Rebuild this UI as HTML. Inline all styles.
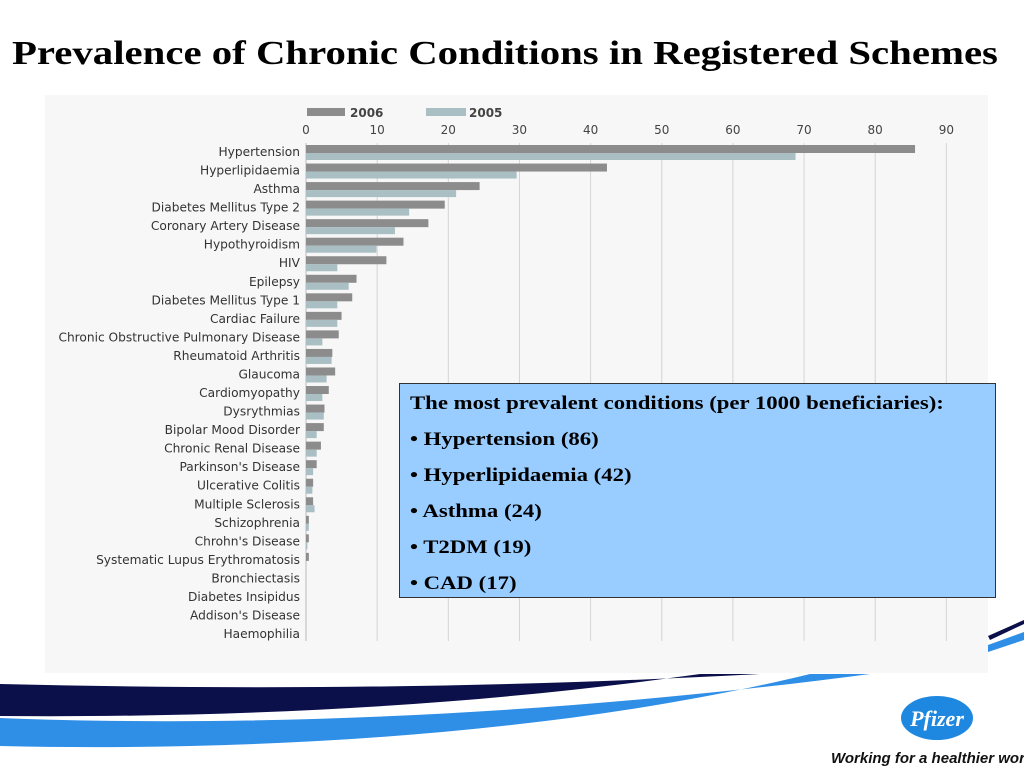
<!DOCTYPE html>
<html><head><meta charset="utf-8"><style>
html,body{margin:0;padding:0;background:#fff;width:1024px;height:768px;overflow:hidden;font-family:"Liberation Sans",sans-serif}
#title{position:absolute;left:12px;top:35px;white-space:nowrap;font-family:"Liberation Serif",serif;font-weight:bold;font-size:34px;color:#000;transform:scaleX(1.2);transform-origin:left}
#note{position:absolute;left:399px;top:383px;width:597px;height:215px;background:#99ccff;border:1px solid #333;box-sizing:border-box;font-family:"Liberation Serif",serif;font-weight:bold;font-size:18.5px;color:#000;padding:8px 0 0 10px}
#note div{height:36px;line-height:24px;white-space:nowrap;transform:scaleX(1.23);transform-origin:left}
#tag{position:absolute;left:831px;top:750px;font-family:"Liberation Sans",sans-serif;font-style:italic;font-weight:bold;font-size:15px;color:#111;white-space:nowrap}
</style></head><body>
<div id="title">Prevalence of Chronic Conditions in Registered Schemes</div>
<svg id="chart" width="1024" height="768" style="position:absolute;left:0;top:0">
<rect x="45" y="95" width="943" height="578" fill="#f7f7f7"/>
<g id="grid"></g><g id="bars"></g><g id="labels"></g>
<g>
<rect x="307" y="108" width="38" height="8" fill="#8c8c8c"/>
<text x="350" y="117" font-size="12" font-weight="bold" fill="#444" font-family="DejaVu Sans, sans-serif">2006</text>
<rect x="426" y="108" width="40" height="8" fill="#a9bfc3"/>
<text x="469" y="117" font-size="12" font-weight="bold" fill="#444" font-family="DejaVu Sans, sans-serif">2005</text>
</g>
<g>
<path d="M0,684 C250,690 500,688 760,674 L700,674 C480,705 250,718 0,716 Z" fill="#0b0f4a"/>
<path d="M0,718 C250,728 560,715 870,674 L810,674 C560,735 250,752 0,746 Z" fill="#2f8fe6"/>
<path d="M988,636 L1024,620 L1024,624 L990,640 Z" fill="#0b0f4a"/>
<path d="M988,645 L1024,632 L1024,640 L988,652 Z" fill="#2f8fe6"/>
</g>
<g>
<ellipse cx="937" cy="718" rx="36" ry="22" fill="#1e88e0"/>
<text x="937" y="726" text-anchor="middle" font-family="Liberation Serif, serif" font-style="italic" font-weight="bold" font-size="22" fill="#fff">Pfizer</text>
</g>
</svg>
<div id="note">
<div>The most prevalent conditions (per 1000 beneficiaries):</div>
<div>• Hypertension (86)</div>
<div>• Hyperlipidaemia (42)</div>
<div>• Asthma (24)</div>
<div>• T2DM (19)</div>
<div>• CAD (17)</div>
</div>
<div id="tag">Working for a healthier world</div>
<script>
const categories=["Hypertension","Hyperlipidaemia","Asthma","Diabetes Mellitus Type 2","Coronary Artery Disease","Hypothyroidism","HIV","Epilepsy","Diabetes Mellitus Type 1","Cardiac Failure","Chronic Obstructive Pulmonary Disease","Rheumatoid Arthritis","Glaucoma","Cardiomyopathy","Dysrythmias","Bipolar Mood Disorder","Chronic Renal Disease","Parkinson's Disease","Ulcerative Colitis","Multiple Sclerosis","Schizophrenia","Chrohn's Disease","Systematic Lupus Erythromatosis","Bronchiectasis","Diabetes Insipidus","Addison's Disease","Haemophilia"];
const values2006=[85.6,42.3,24.4,19.5,17.2,13.7,11.3,7.1,6.5,5.0,4.6,3.7,4.1,3.2,2.6,2.5,2.1,1.5,1.0,1.0,0.4,0.4,0.4,0,0,0,0];
const values2005=[68.8,29.6,21.1,14.5,12.5,9.9,4.4,6.0,4.4,4.4,2.3,3.6,2.9,2.3,2.5,1.5,1.5,1.0,0.9,1.2,0.4,0.2,0,0,0,0,0];
const ticks=[0,10,20,30,40,50,60,70,80,90];
const NS="http://www.w3.org/2000/svg";
const x=v=>306+v*7.115;
const rowY=i=>145+i*18.54;
function mk(tag,attrs,parent){const e=document.createElementNS(NS,tag);for(const k in attrs)e.setAttribute(k,attrs[k]);parent.appendChild(e);return e;}
const grid=document.getElementById('grid'),bars=document.getElementById('bars'),labels=document.getElementById('labels');
ticks.forEach(t=>{
 const l=mk('line',{x1:x(t),x2:x(t),y1:143,y2:641,stroke:t===0?'#bbb':'#d4d4d4','stroke-width':1},grid);
 
 
 const tx=mk('text',{x:x(t),y:134,'text-anchor':'middle','font-size':12,fill:'#444','font-family':'DejaVu Sans, sans-serif'},grid);
 tx.textContent=t;
 
 
});
categories.forEach((c,i)=>{
 const y=rowY(i);
 const b1=mk('rect',{x:x(0),y:y,width:x(values2006[i])-x(0),height:8,fill:'#8c8c8c'},bars);
 
 
 const b2=mk('rect',{x:x(0),y:y+8,width:x(values2005[i])-x(0),height:7,fill:'#a9bfc3'},bars);
 
 
 const t=mk('text',{x:300,y:y+11,'text-anchor':'end','font-size':12.2,fill:'#333','font-family':'DejaVu Sans, sans-serif'},labels);
 t.textContent=c;
 
 
});
</script>
</body></html>
